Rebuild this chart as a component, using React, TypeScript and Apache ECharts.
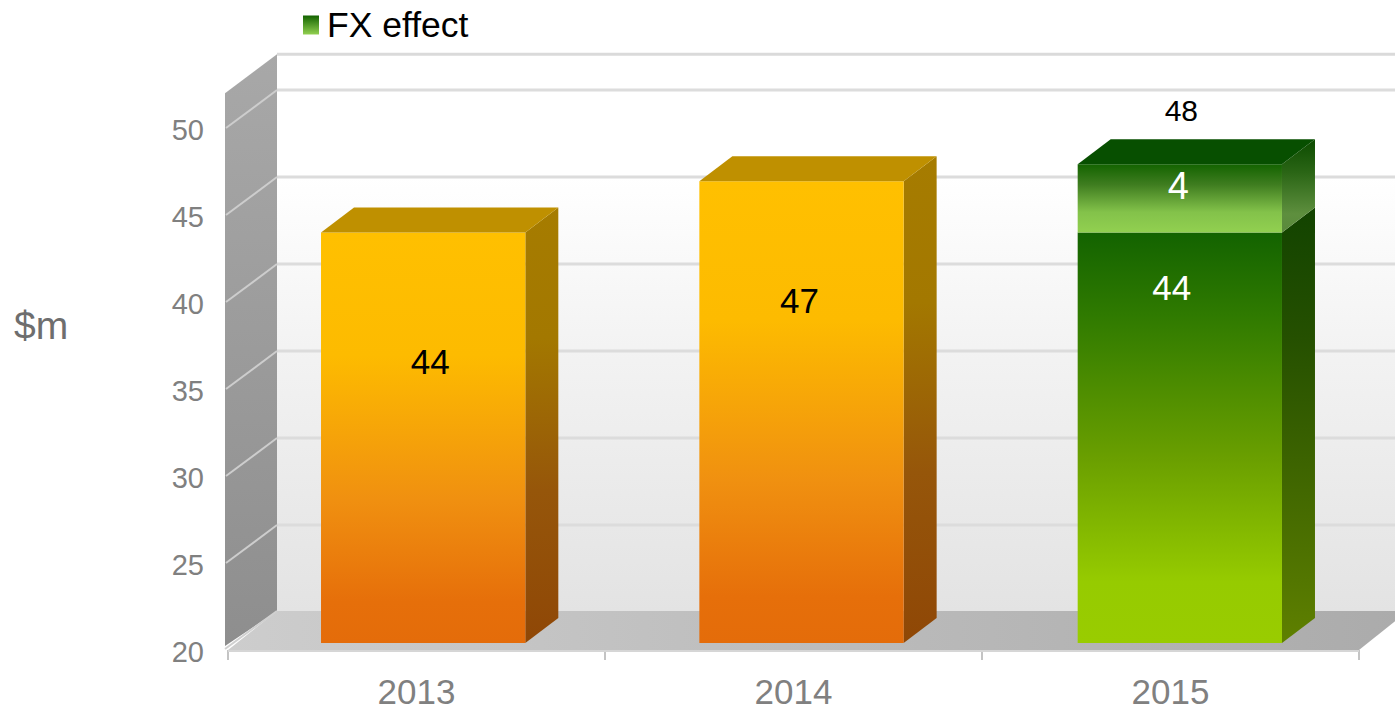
import React, { useEffect, useRef } from "react";
import * as echarts from "echarts";

const years = ["2013", "2014", "2015"];
const underlying = [44, 47, 44];
const fxEffect = [0, 0, 4];
const totals = ["", "", "48"];
const yTicks = [20, 25, 30, 35, 40, 45, 50];

// Box projection used for the chart frame and for the bars.
const WALL_DX = 49;
const FLOOR_DY = -39;
const GRID_DY = -38;
const BAR_DX = 33;
const BAR_DY = -25;
const BAR_BAND = 0.54;
const WALL_UNITS = 32;

const grad = (stops: [number, string][], horizontal = false) =>
  new echarts.graphic.LinearGradient(0, 0, horizontal ? 1 : 0, horizontal ? 0 : 1,
    stops.map(([offset, color]) => ({ offset, color })));

const orangeSkin = {
  front: () => grad([[0, "#FFC000"], [0.3, "#FDBB00"], [0.65, "#F09010"], [0.9, "#E66F0A"], [1, "#E46C0A"]]),
  side: () => grad([[0, "#A67C00"], [0.3, "#A37800"], [0.65, "#96560A"], [1, "#8F4706"]]),
  top: () => "#BF9000",
};
const greenSkin = {
  front: () => grad([[0, "#136300"], [0.2, "#2F7A00"], [0.55, "#6A9F00"], [0.85, "#96CB00"], [1, "#99CC00"]]),
  side: () => grad([[0, "#124300"], [0.3, "#255000"], [1, "#5F8000"]]),
  top: () => "#074F00",
};
const fxSkin = {
  front: () => grad([[0, "#136300"], [0.3, "#3F7D20"], [0.7, "#83C24A"], [1, "#92D050"]]),
  side: () => grad([[0, "#0C4B00"], [0.35, "#2A6515"], [0.8, "#5E8F3E"], [1, "#5A8A3C"]]),
  top: () => "#074F00",
};

const cuboid = (x: number, yTop: number, yBase: number, w: number, skin: any, showTop: boolean) => {
  const faces: any[] = [
    {
      type: "polygon",
      shape: { points: [[x + w, yTop], [x + w + BAR_DX, yTop + BAR_DY], [x + w + BAR_DX, yBase + BAR_DY], [x + w, yBase]] },
      style: { fill: skin.side() },
    },
    { type: "rect", shape: { x, y: yTop, width: w, height: yBase - yTop }, style: { fill: skin.front() } },
  ];
  if (showTop) {
    faces.push({
      type: "polygon",
      shape: { points: [[x, yTop], [x + BAR_DX, yTop + BAR_DY], [x + w + BAR_DX, yTop + BAR_DY], [x + w, yTop]] },
      style: { fill: skin.top() },
    });
  }
  return faces;
};

const renderFrame = (_: any, api: any) => {
  const [x0, fy] = api.coord([0, 20]);
  const band = api.size([1, 0])[0];
  const x1 = x0 - band / 2;
  const x2 = x1 + band * years.length;
  const frontTop = fy - ((fy - api.coord([0, 50])[1]) / 30) * WALL_UNITS;
  const backFloor = fy + FLOOR_DY;
  const backTop = frontTop + FLOOR_DY;
  const children: any[] = [
    { type: "rect", shape: { x: x1 + WALL_DX, y: backTop, width: x2 - x1, height: backFloor - backTop },
      style: { fill: grad([[0, "#FFFFFF"], [0.22, "#FFFFFF"], [0.55, "#F2F2F2"], [1, "#E3E3E3"]]) } },
    { type: "polygon", shape: { points: [[x1 - 3, frontTop], [x1 + WALL_DX, backTop], [x1 + WALL_DX, backFloor], [x1 - 3, fy - 4]] },
      style: { fill: grad([[0, "#A8A8A8"], [1, "#8E8E8E"]]) } },
    { type: "polygon", shape: { points: [[x1, fy], [x1 + WALL_DX, backFloor], [x2 + WALL_DX, backFloor], [x2, fy]] },
      style: { fill: grad([[0, "#CDCDCD"], [1, "#ABABAB"]], true) } },
    { type: "line", shape: { x1: x1 + WALL_DX, y1: backTop, x2: x2 + WALL_DX, y2: backTop },
      style: { stroke: "#DADADA", lineWidth: 3 } },
    { type: "line", shape: { x1, y1: fy + 1, x2, y2: fy + 1 }, style: { stroke: "#D6D6D6", lineWidth: 2 } },
    { type: "line", shape: { x1: x1 - 3, y1: fy - 1, x2: x1 + WALL_DX, y2: backFloor }, style: { stroke: "#D0D0D0", lineWidth: 2 } },
  ];
  yTicks.slice(1).forEach((tick) => {
    const y = api.coord([0, tick])[1];
    children.push(
      { type: "line", shape: { x1: x1 + WALL_DX, y1: y + GRID_DY, x2: x2 + WALL_DX, y2: y + GRID_DY },
        style: { stroke: "#DCDCDC", lineWidth: 3 } },
      { type: "line", shape: { x1: x1 - 2, y1: y, x2: x1 + WALL_DX, y2: y + GRID_DY },
        style: { stroke: "#CDCDCD", lineWidth: 2 } },
    );
  });
  return { type: "group", children };
};

const renderStack = (_: any, api: any) => {
  const i = api.value(0);
  const low = api.value(1);
  const fx = api.value(2);
  const band = api.size([1, 0])[0];
  const w = band * BAR_BAND;
  const x = api.coord([i, 0])[0] - w / 2;
  const yBase = api.coord([i, 20])[1];
  const yLow = api.coord([i, low])[1];
  const skin = i === 2 ? greenSkin : orangeSkin;
  const children = cuboid(x, yLow, yBase, w, skin, fx === 0);
  if (fx > 0) {
    children.push(...cuboid(x, api.coord([i, low + fx])[1], yLow, w, fxSkin, true));
  }
  return { type: "group", children };
};

// Offsets of each text from the bar centre and the top of its segment.
const LABEL_FONT = "Liberation Sans";
const lowLabelOffset = [[7, 129], [-2, 119], [-8, 55]];
const fxLabelOffset = [-1.5, 22];
const totalLabelOffset = [1.5, -54];

const renderLabels = (_: any, api: any) => {
  const i = api.value(0);
  const low = api.value(1);
  const fx = api.value(2);
  const cx = api.coord([i, 0])[0];
  const yLow = api.coord([i, low])[1];
  const yTop = api.coord([i, low + fx])[1];
  const text = (content: string, x: number, y: number, fill: string, size: number) => ({
    type: "text",
    style: { text: content, x, y, fill, fontFamily: LABEL_FONT, fontSize: size, align: "center", verticalAlign: "middle" },
  });
  const dark = i !== 2;
  const children: any[] = [
    text(String(low), cx + lowLabelOffset[i][0], yLow + lowLabelOffset[i][1], dark ? "#000000" : "#FFFFFF", 35),
  ];
  if (fx > 0) {
    children.push(text(String(fx), cx + fxLabelOffset[0], yTop + fxLabelOffset[1], "#FFFFFF", 38));
    children.push(text(totals[i], cx + totalLabelOffset[0], yTop + totalLabelOffset[1], "#000000", 30));
  }
  return { type: "group", children };
};

const stackData = years.map((_, i) => [i, underlying[i], fxEffect[i]]);

export default function App() {
  const ref = useRef<HTMLDivElement>(null);
  useEffect(() => {
    document.body.style.margin = "0";
    document.body.style.overflow = "hidden";
    const chart = echarts.init(ref.current!, undefined, { renderer: "svg" });
    chart.setOption({
      animation: false,
      backgroundColor: "#FFFFFF",
      textStyle: { fontFamily: LABEL_FONT },
      legend: {
        data: ["FX effect"],
        left: 298,
        top: 2,
        icon: "rect",
        itemWidth: 16,
        itemHeight: 19,
        itemGap: 12,
        selectedMode: false,
        textStyle: { fontFamily: LABEL_FONT, fontSize: 35.5, color: "#000000", padding: [0, 0, 0, 3] },
      },
      grid: [
        { left: 228, right: 36, top: 128, bottom: 59, outerBoundsMode: "none" },
        { left: 234, width: 1135, top: 130, bottom: 66, outerBoundsMode: "none" },
      ],
      xAxis: [
        {
          type: "category",
          data: years,
          gridIndex: 0,
          axisLine: { show: false },
          axisTick: { show: true, length: 10, lineStyle: { color: "#C4C4C4", width: 2 } },
          axisLabel: { fontFamily: LABEL_FONT, fontSize: 35, lineHeight: 30, color: "#808080", margin: 26 },
        },
        { type: "category", data: years, gridIndex: 1, show: false },
      ],
      yAxis: [
        {
          type: "value",
          gridIndex: 0,
          min: 20,
          max: 50,
          interval: 5,
          axisLine: { show: false },
          axisTick: { show: false },
          splitLine: { show: false },
          axisLabel: {
            margin: 24,
            formatter: (value: number) => `{tick|${value}}`,
            rich: {
              tick: { fontFamily: LABEL_FONT, fontSize: 29, color: "#808080", padding: [4, 0, 0, 0] },
            },
          },
        },
        { type: "value", gridIndex: 1, min: 20, max: 50, show: false, splitLine: { show: false } },
      ],
      graphic: [
        {
          type: "text",
          left: 14,
          top: 306,
          style: { text: "$m", fontFamily: LABEL_FONT, fontSize: 39, fill: "#6E6E6E" },
        },
      ],
      series: [
        {
          type: "custom",
          name: "frame",
          z: 1,
          xAxisIndex: 0,
          yAxisIndex: 0,
          data: [[0, 20]],
          encode: { x: 0, y: 1 },
          renderItem: renderFrame,
          silent: true,
        },
        {
          type: "custom",
          name: "FX effect",
          z: 3,
          xAxisIndex: 1,
          yAxisIndex: 1,
          data: stackData,
          encode: { x: 0, y: 1 },
          itemStyle: { color: grad([[0, "#136300"], [1, "#92D050"]]) },
          renderItem: renderStack,
        },
        {
          type: "custom",
          name: "labels",
          z: 4,
          xAxisIndex: 1,
          yAxisIndex: 1,
          data: stackData,
          encode: { x: 0, y: 1 },
          renderItem: renderLabels,
        },
      ],
    });
    return () => chart.dispose();
  }, []);
  return <div ref={ref} style={{ position: "absolute", left: 0, top: 0, width: 1395, height: 709 }} />;
}
